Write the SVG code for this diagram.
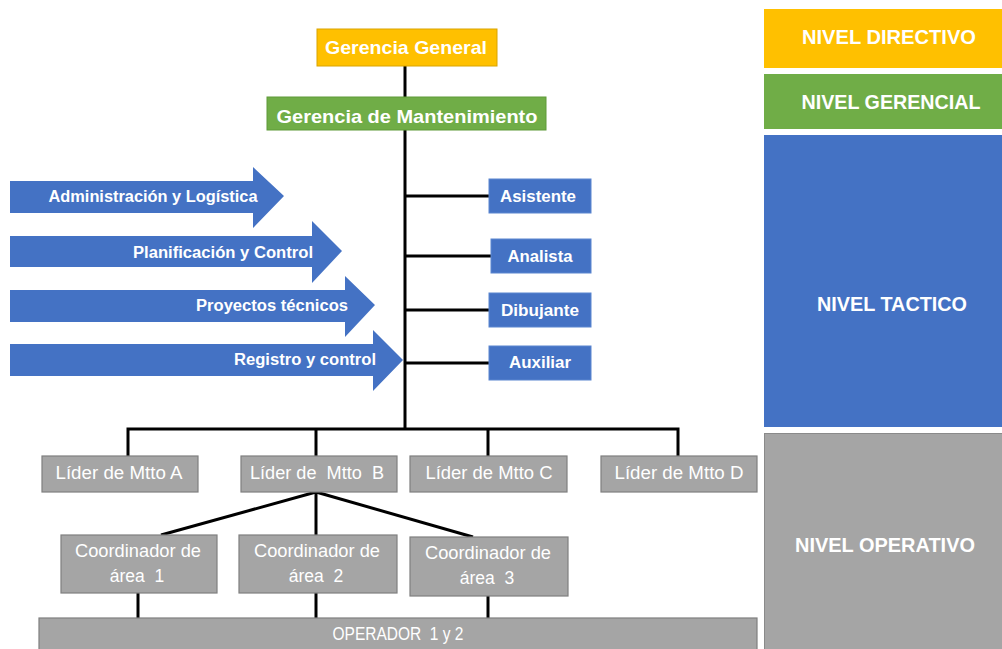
<svg xmlns="http://www.w3.org/2000/svg" width="1002" height="649" viewBox="0 0 1002 649">
<style>
text{font-family:"Liberation Sans",Arial,sans-serif;fill:#ffffff;text-anchor:middle}
.b{font-weight:bold}
.t15{font-size:16px}
.t16{font-size:17px}
.t17{font-size:17.5px}
.t19{font-size:19px}
.t21{font-size:21px}
.yel{fill:#FFC000;stroke:#D9A400;stroke-width:1}
.grn{fill:#70AD47;stroke:#5E9A38;stroke-width:1}
.blu{fill:#4472C4;stroke:#5B86D0;stroke-width:1}
.gry{fill:#A5A5A5;stroke:#7F7F7F;stroke-width:1.2}
.arr{fill:#4472C4}
.ln{stroke:#000;stroke-width:3;fill:none}
</style>
<rect width="1002" height="649" fill="#ffffff"/>

<g id="levels">
  <rect x="764" y="9" width="238" height="59" fill="#FFC000"/>
  <text class="b t21" x="889" y="44" textLength="174" lengthAdjust="spacingAndGlyphs">NIVEL DIRECTIVO</text>
  <rect x="764" y="74" width="238" height="55" fill="#70AD47"/>
  <text class="b t21" x="891" y="109" textLength="179" lengthAdjust="spacingAndGlyphs">NIVEL GERENCIAL</text>
  <rect x="764" y="135" width="238" height="292" fill="#4472C4"/>
  <text class="b t21" x="892" y="311" textLength="150" lengthAdjust="spacingAndGlyphs">NIVEL TACTICO</text>
  <rect x="764.5" y="433.5" width="238" height="216" fill="#A5A5A5" stroke="#8A8A8A" stroke-width="1"/>
  <text class="b t21" x="885" y="552" textLength="180" lengthAdjust="spacingAndGlyphs">NIVEL OPERATIVO</text>
</g>

<g id="connectors">
  <line class="ln" x1="405" y1="66" x2="405" y2="97"/>
  <line class="ln" x1="405" y1="130" x2="405" y2="429"/>
  <line class="ln" x1="405" y1="196" x2="489" y2="196"/>
  <line class="ln" x1="405" y1="256" x2="491" y2="256"/>
  <line class="ln" x1="405" y1="310" x2="489" y2="310"/>
  <line class="ln" x1="405" y1="363" x2="489" y2="363"/>
  <polyline class="ln" points="128,456 128,429 678,429 678,456"/>
  <line class="ln" x1="316" y1="429" x2="316" y2="456"/>
  <line class="ln" x1="488" y1="429" x2="488" y2="456"/>
  <line class="ln" x1="316" y1="492" x2="316" y2="535"/>
  <line class="ln" x1="316" y1="492" x2="161" y2="535"/>
  <line class="ln" x1="316" y1="492" x2="473" y2="537"/>
  <line class="ln" x1="138" y1="593" x2="138" y2="618"/>
  <line class="ln" x1="316" y1="593" x2="316" y2="618"/>
  <line class="ln" x1="488" y1="596" x2="488" y2="618"/>
</g>

<g id="arrows">
  <g id="arrow-admin">
    <polygon class="arr" points="10,181 253,181 253,167 284,196 253,228 253,213 10,213"/>
    <text class="b t15" x="153" y="202" textLength="209" lengthAdjust="spacingAndGlyphs">Administración y Logística</text>
  </g>
  <g id="arrow-plan">
    <polygon class="arr" points="10,236 312,236 312,221 342,251 312,283 312,267 10,267"/>
    <text class="b t15" x="223" y="258" textLength="180" lengthAdjust="spacingAndGlyphs">Planificación y Control</text>
  </g>
  <g id="arrow-proy">
    <polygon class="arr" points="10,290 345,290 345,276 375,305 345,337 345,322 10,322"/>
    <text class="b t15" x="272" y="311" textLength="152" lengthAdjust="spacingAndGlyphs">Proyectos técnicos</text>
  </g>
  <g id="arrow-reg">
    <polygon class="arr" points="10,344 373,344 373,330 403,360 373,391 373,376 10,376"/>
    <text class="b t15" x="305" y="365" textLength="142" lengthAdjust="spacingAndGlyphs">Registro y control</text>
  </g>
</g>

<g id="gerencia-general">
  <rect class="yel" x="317" y="29" width="180" height="37"/>
  <text class="b t19" x="406" y="54" textLength="162" lengthAdjust="spacingAndGlyphs">Gerencia General</text>
</g>
<g id="gerencia-mantenimiento">
  <rect class="grn" x="267" y="97" width="279" height="33"/>
  <text class="b t19" x="407" y="123" textLength="261" lengthAdjust="spacingAndGlyphs">Gerencia de Mantenimiento</text>
</g>

<g id="asistente">
  <rect class="blu" x="489" y="179" width="102" height="34"/>
  <text class="b t16" x="538" y="202" textLength="76" lengthAdjust="spacingAndGlyphs">Asistente</text>
</g>
<g id="analista">
  <rect class="blu" x="491" y="239" width="100" height="34"/>
  <text class="b t16" x="540" y="262" textLength="65" lengthAdjust="spacingAndGlyphs">Analista</text>
</g>
<g id="dibujante">
  <rect class="blu" x="489" y="293" width="102" height="34"/>
  <text class="b t16" x="540" y="316" textLength="78" lengthAdjust="spacingAndGlyphs">Dibujante</text>
</g>
<g id="auxiliar">
  <rect class="blu" x="489" y="346" width="102" height="34"/>
  <text class="b t16" x="540" y="368" textLength="62" lengthAdjust="spacingAndGlyphs">Auxiliar</text>
</g>

<g id="lider-a">
  <rect class="gry" x="42" y="456" width="156" height="36"/>
  <text class="t17" x="119" y="479" textLength="127" lengthAdjust="spacingAndGlyphs">Líder de Mtto A</text>
</g>
<g id="lider-b">
  <rect class="gry" x="241" y="456" width="156" height="36"/>
  <text class="t17" x="317" y="479" textLength="134" lengthAdjust="spacingAndGlyphs" xml:space="preserve">Líder de  Mtto  B</text>
</g>
<g id="lider-c">
  <rect class="gry" x="410" y="456" width="157" height="36"/>
  <text class="t17" x="489" y="479" textLength="127" lengthAdjust="spacingAndGlyphs">Líder de Mtto C</text>
</g>
<g id="lider-d">
  <rect class="gry" x="601" y="456" width="156" height="36"/>
  <text class="t17" x="679" y="479" textLength="129" lengthAdjust="spacingAndGlyphs">Líder de Mtto D</text>
</g>

<g id="coord-1">
  <rect class="gry" x="61" y="535" width="156" height="58"/>
  <text class="t17" x="138" y="557" textLength="126" lengthAdjust="spacingAndGlyphs">Coordinador de</text>
  <text class="t17" x="137" y="582" xml:space="preserve">área  1</text>
</g>
<g id="coord-2">
  <rect class="gry" x="239" y="535" width="158" height="58"/>
  <text class="t17" x="317" y="557" textLength="126" lengthAdjust="spacingAndGlyphs">Coordinador de</text>
  <text class="t17" x="316" y="582" xml:space="preserve">área  2</text>
</g>
<g id="coord-3">
  <rect class="gry" x="410" y="537" width="158" height="59"/>
  <text class="t17" x="488" y="559" textLength="126" lengthAdjust="spacingAndGlyphs">Coordinador de</text>
  <text class="t17" x="487" y="584" xml:space="preserve">área  3</text>
</g>

<g id="operador">
  <rect class="gry" x="39" y="618" width="718" height="40"/>
  <text class="t17" x="398" y="640" textLength="131" lengthAdjust="spacingAndGlyphs" xml:space="preserve">OPERADOR  1 y 2</text>
</g>
</svg>
